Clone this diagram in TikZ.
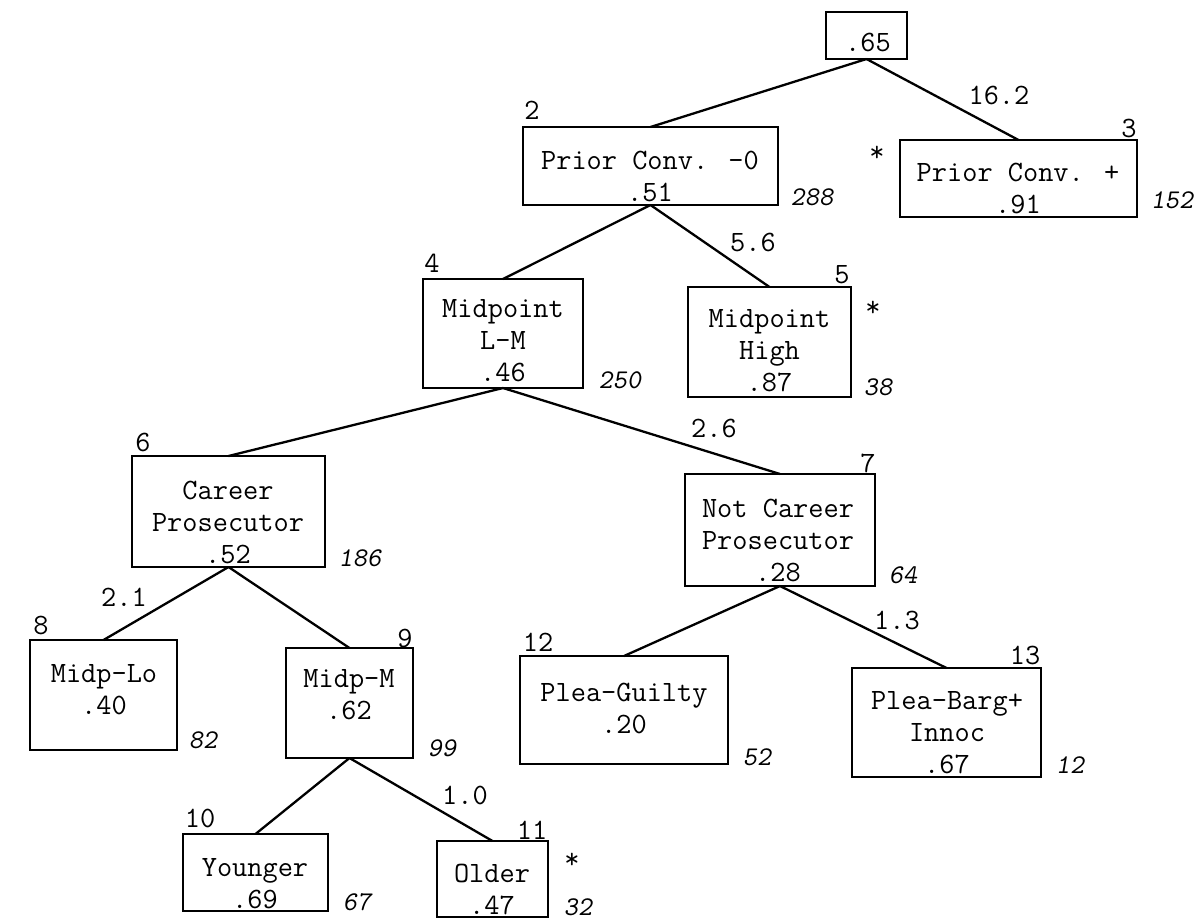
\documentclass[tikz,border=0pt]{standalone}
\begin{document}
\begin{tikzpicture}[x=1pt,y=-1pt,
  box/.style={draw,line width=1.8pt,inner sep=0pt,outer sep=0pt},
  txt/.style={anchor=north,inner sep=0pt,align=center,font=\fontsize{29.5}{32}\selectfont\ttfamily},
  lbl/.style={inner sep=0pt,font=\fontsize{29.5}{32}\selectfont\ttfamily},
  cnt/.style={inner sep=0pt,font=\fontsize{27}{30}\selectfont\ttfamily\slshape},
  edge/.style={line width=2.3pt}]
\useasboundingbox (0,0) rectangle (1201,919);
\fill[white] (0,0) rectangle (1201,919);
% root
\node[box,minimum width=81pt,minimum height=47pt] (n1) at (866.5,35.5) {};
\node[txt] (t1) at (868,28.6) {\strut.65};
% node 2
\node[box,minimum width=255pt,minimum height=78pt] (n2) at (650.5,166) {};
\node[txt] (t2) at (650,146.6) {\strut Prior Conv. -0\\.51};
\node[lbl] (l2) at (532,110) {2};
\node[cnt] (c2) at (812,197) {288};
% node 3
\node[box,minimum width=237pt,minimum height=77pt] (n3) at (1018.5,178.5) {};
\node[txt] (t3) at (1018,158.6) {\strut Prior Conv. +\\.91};
\node[lbl] (l3) at (1129,128) {3};
\node[lbl] (s3) at (877,154) {*};
\node[cnt] (c3) at (1172,200) {152};
\node[lbl] (v3) at (999,95) {16.2};
% node 4
\node[box,minimum width=160pt,minimum height=109pt] (n4) at (503,333.5) {};
\node[txt] (t4) at (503,294.6) {\strut Midpoint\\L-M\\.46};
\node[lbl] (l4) at (432,263) {4};
\node[cnt] (c4) at (620,380) {250};
% node 5
\node[box,minimum width=163pt,minimum height=110pt] (n5) at (769.5,342) {};
\node[txt] (t5) at (769.5,304.6) {\strut Midpoint\\High\\.87};
\node[lbl] (l5) at (842,275) {5};
\node[lbl] (s5) at (873,309) {*};
\node[cnt] (c5) at (878,387) {38};
\node[lbl] (v5) at (753,242) {5.6};
% node 6
\node[box,minimum width=193pt,minimum height=111pt] (n6) at (228.5,511.5) {};
\node[txt] (t6) at (228,476.6) {\strut Career\\Prosecutor\\.52};
\node[lbl] (l6) at (143,442) {6};
\node[cnt] (c6) at (360,558) {186};
% node 7
\node[box,minimum width=190pt,minimum height=112pt] (n7) at (780,530) {};
\node[txt] (t7) at (778,494.6) {\strut Not Career\\Prosecutor\\.28};
\node[lbl] (l7) at (868,463) {7};
\node[cnt] (c7) at (903,575) {64};
\node[lbl] (v7) at (714,428) {2.6};
% node 8
\node[box,minimum width=147pt,minimum height=110pt] (n8) at (103.5,695) {};
\node[txt] (t8) at (104,659.6) {\strut Midp-Lo\\.40};
\node[lbl] (l8) at (41,625) {8};
\node[cnt] (c8) at (203,740) {82};
\node[lbl] (v8) at (124,597) {2.1};
% node 9
\node[box,minimum width=127pt,minimum height=110pt] (n9) at (349.5,703) {};
\node[txt] (t9) at (349,664.6) {\strut Midp-M\\.62};
\node[lbl] (l9) at (405,638) {9};
\node[cnt] (c9) at (442,748) {99};
% node 12
\node[box,minimum width=208pt,minimum height=108pt] (n12) at (624,710) {};
\node[txt] (t12) at (624,678.6) {\strut Plea-Guilty\\.20};
\node[lbl] (l12) at (538,642) {12};
\node[cnt] (c12) at (757,757) {52};
% node 13
\node[box,minimum width=189pt,minimum height=109pt] (n13) at (946.5,722.5) {};
\node[txt] (t13) at (947,686.6) {\strut Plea-Barg+\\Innoc\\.67};
\node[lbl] (l13) at (1025,655) {13};
\node[cnt] (c13) at (1070,765) {12};
\node[lbl] (v13) at (897,620) {1.3};
% node 10
\node[box,minimum width=145pt,minimum height=77pt] (n10) at (255.5,872.5) {};
\node[txt] (t10) at (255,853.6) {\strut Younger\\.69};
\node[lbl] (l10) at (200,818) {10};
\node[cnt] (c10) at (357,902) {67};
% node 11
\node[box,minimum width=111pt,minimum height=76pt] (n11) at (492.5,879) {};
\node[txt] (t11) at (492,859.6) {\strut Older\\.47};
\node[lbl] (l11) at (532,830) {11};
\node[lbl] (s11) at (572,861) {*};
\node[cnt] (c11) at (578,907) {32};
\node[lbl] (v11) at (465,795) {1.0};
% connectors
\draw[edge] (n1.south) -- (n2.north);
\draw[edge] (n1.south) -- (n3.north);
\draw[edge] (n2.south) -- (n4.north);
\draw[edge] (n2.south) -- (n5.north);
\draw[edge] (n4.south) -- (n6.north);
\draw[edge] (n4.south) -- (n7.north);
\draw[edge] (n6.south) -- (n8.north);
\draw[edge] (n6.south) -- (n9.north);
\draw[edge] (n9.south) -- (n10.north);
\draw[edge] (n9.south) -- (n11.north);
\draw[edge] (n7.south) -- (n12.north);
\draw[edge] (n7.south) -- (n13.north);
\end{tikzpicture}
\end{document}
